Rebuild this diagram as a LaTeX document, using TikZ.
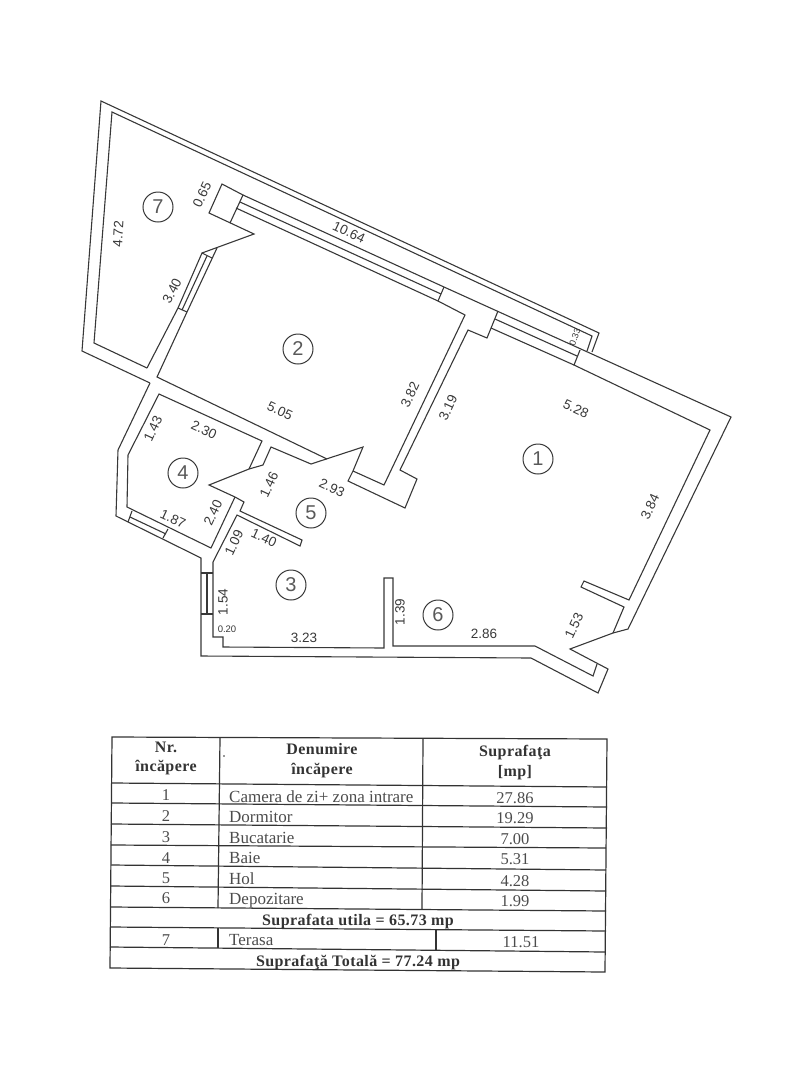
\documentclass[tikz,border=0pt]{standalone}
\usepackage{fontspec}
\setmainfont{Liberation Serif}
\newfontfamily\planfont{Liberation Sans}
\newfontfamily\headfont[LetterSpace=2.6]{Liberation Serif}
\definecolor{planline}{gray}{0.22}
\definecolor{tabline}{gray}{0.2}
\definecolor{tabtext}{gray}{0.3}
\tikzset{
	wall/.style={draw=planline, line width=1.1pt, line join=miter},
	dimlabel/.style={font=\planfont\fontsize{13.5}{13.5}\selectfont, text=planline, inner sep=0pt},
	roomno/.style={draw=planline, line width=1pt, circle, minimum size=30pt, inner sep=0pt, font=\planfont\fontsize{20}{20}\selectfont, text=black!65},
	tabrule/.style={draw=tabline, line width=1.2pt},
	tabcell/.style={font=\fontsize{16.5}{16.5}\selectfont, text=tabtext, inner sep=0pt},
	tabname/.style={font=\fontsize{17}{17}\selectfont, text=tabtext, inner sep=0pt, anchor=west},
	tabhead/.style={font=\headfont\bfseries\fontsize{16}{16}\selectfont, text=black!80, inner sep=0pt},
}
\begin{document}
\begin{tikzpicture}[x=1pt, y=-1pt]
	\useasboundingbox (0,0) rectangle (805,1080);
	
	% terasa
	\draw[wall] (150,383) -- (82,351) -- (101,101) -- (599,333) -- (592,352);
	\draw[wall] (147,368) -- (94,343) -- (112,112) -- (592,336) -- (587,351);
	\draw[wall] (147,368) -- (178,308);
	
	% perete si fereastra dormitor
	\draw[wall] (202,253) -- (254,234) -- (209,213) -- (222,184) -- (243,195) -- (230,223);
	\draw[wall] (243,195) -- (444,287);
	\draw[wall] (240,202) -- (441,294);
	\draw[wall] (236,208) -- (438,301);
	\draw[wall] (444,287) -- (438,301);
	\draw[wall] (178,308) -- (202,253) -- (212,258);
	\draw[wall] (182,310) -- (207,256);
	\draw[wall] (178,308) -- (187,312);
	\draw[wall] (217,248) -- (187,312) -- (157,377) -- (327,459);
	\draw[wall] (438,301) -- (465,315) -- (384,485) -- (353,471);
	
	% contur exterior
	\draw[wall] (150,383) -- (118,450) -- (116,516) -- (201,558) -- (201,656) -- (531,658) -- (598,693)
	-- (608,669) -- (570,649) -- (613,633) -- (628,629) -- (731,417) -- (444,287);
	
	% contur interior
	\draw[wall] (580,350) -- (574,365) -- (710,430) -- (629,600) -- (584,581) -- (581,587) -- (624,607) -- (613,633);
	\draw[wall] (498,311) -- (487,338) -- (468,330) -- (400,470) -- (417,479) -- (405,508) -- (348,481) -- (353,471)
	-- (363,447) -- (311,464) -- (271,447) -- (263,465) -- (249,469) -- (209,485) -- (235,497) -- (244,502)
	-- (240,511) -- (302,540) -- (300,546) -- (237,515) -- (213,562) -- (213,637) -- (223,637) -- (223,647)
	-- (384,648) -- (384,578) -- (393,578) -- (393,646) -- (535,646) -- (593,676) -- (597,664);
	
	% fereastra camera de zi
	\draw[wall] (491,328) -- (574,365);
	\draw[wall] (495,319) -- (577,356);
	
	% baie
	\draw[wall] (249,469) -- (262,441) -- (159,394) -- (128,455) -- (127,507) -- (211,548) -- (235,497);
	\draw[wall] (132,511) -- (128,522);
	\draw[wall] (168,529) -- (163,538);
	\draw[wall] (130,517) -- (166,534);
	
	% fereastra bucatarie
	\draw[wall] (201,573) -- (213,573);
	\draw[wall] (201,614) -- (213,614);
	\draw[wall] (207,573) -- (207,614);
	
	% numere camere
	\node[roomno] (room1) at (538,459) {1};
	\node[roomno] (room2) at (298,349) {2};
	\node[roomno] (room3) at (291,585) {3};
	\node[roomno] (room4) at (183,473) {4};
	\node[roomno] (room5) at (311,513) {5};
	\node[roomno] (room6) at (438,615) {6};
	\node[roomno] (room7) at (158,207) {7};
	
	% cote
	\node[dimlabel, rotate=87] (dimA) at (118,234) {4.72};
	\node[dimlabel, rotate=65] (dimB) at (202,195) {0.65};
	\node[dimlabel, rotate=-25] (dimC) at (349,232) {10.64};
	\node[dimlabel, rotate=63] (dimD) at (172,291) {3.40};
	\node[dimlabel, rotate=-25] (dimE) at (280,411) {5.05};
	\node[dimlabel, rotate=65] (dimF) at (410,395) {3.82};
	\node[dimlabel, rotate=65] (dimG) at (448,408) {3.19};
	\node[dimlabel, rotate=-25] (dimH) at (576,409) {5.28};
	\node[dimlabel, rotate=70, font=\planfont\fontsize{9}{9}\selectfont] (dimI) at (575,337) {0.33};
	\node[dimlabel, rotate=65] (dimJ) at (650,507) {3.84};
	\node[dimlabel, rotate=65] (dimK) at (574,626) {1.53};
	\node[dimlabel] (dimL) at (484,634) {2.86};
	\node[dimlabel, rotate=90] (dimM) at (400,612) {1.39};
	\node[dimlabel, rotate=65] (dimN) at (153,429) {1.43};
	\node[dimlabel, rotate=-25] (dimO) at (204,430) {2.30};
	\node[dimlabel, rotate=65] (dimP) at (269,485) {1.46};
	\node[dimlabel, rotate=-25] (dimQ) at (332,488) {2.93};
	\node[dimlabel, rotate=65] (dimR) at (213,513) {2.40};
	\node[dimlabel, rotate=-25] (dimS) at (173,519) {1.87};
	\node[dimlabel, rotate=-25] (dimT) at (264,538) {1.40};
	\node[dimlabel, rotate=65] (dimU) at (234,543) {1.09};
	\node[dimlabel, rotate=90] (dimV) at (223,602) {1.54};
	\node[dimlabel, font=\planfont\fontsize{9.5}{9.5}\selectfont] (dimW) at (227,629) {0.20};
	\node[dimlabel] (dimX) at (304,638) {3.23};
	
	% tabel
	\draw[tabrule] (112,737) -- (607,739) -- (605,972) -- (110,968) -- cycle;
	\draw[tabrule] (112,783) -- (607,787);
	\draw[tabrule] (112,803) -- (607,807);
	\draw[tabrule] (111,824) -- (607,828);
	\draw[tabrule] (111,845) -- (606,848);
	\draw[tabrule] (111,865) -- (606,870);
	\draw[tabrule] (111,886) -- (606,891);
	\draw[tabrule] (111,907) -- (606,911);
	\draw[tabrule] (110,927) -- (606,931);
	\draw[tabrule] (110,947) -- (605,952);
	\draw[tabrule] (220,738) -- (218,908);
	\draw[tabrule] (218,928) -- (218,948);
	\draw[tabrule] (423,739) -- (422,909);
	\draw[tabrule] (436,930) -- (436,950);
	\fill[tabline] (224,756) circle [radius=0.8];
	
	% cap de tabel
	\node[tabhead] (headNr) at (166,747.5) {Nr.};
	\node[tabhead] (headNrB) at (166,768) {încăpere};
	\node[tabhead] (headDen) at (322,749.5) {Denumire};
	\node[tabhead] (headDenB) at (322,770.5) {încăpere};
	\node[tabhead] (headSup) at (515,753) {Suprafaţa};
	\node[tabhead] (headSupB) at (515,773) {[mp]};
	
	% randuri
	\node[tabcell] (nrA) at (166,795) {1};
	\node[tabcell] (nrB) at (166,816) {2};
	\node[tabcell] (nrC) at (166,837) {3};
	\node[tabcell] (nrD) at (166,858) {4};
	\node[tabcell] (nrE) at (166,878) {5};
	\node[tabcell] (nrF) at (166,898) {6};
	\node[tabcell] (nrG) at (166,940) {7};
	\node[tabname] (nameA) at (229,796.5) {Camera de zi+ zona intrare};
	\node[tabname] (nameB) at (229,817) {Dormitor};
	\node[tabname] (nameC) at (229,837.6) {Bucatarie};
	\node[tabname] (nameD) at (229,857.6) {Baie};
	\node[tabname] (nameE) at (229,878.3) {Hol};
	\node[tabname] (nameF) at (229,900.5) {Depozitare};
	\node[tabname] (nameG) at (229,940.5) {Terasa};
	\node[tabcell] (areaA) at (515,798) {27.86};
	\node[tabcell] (areaB) at (515,818) {19.29};
	\node[tabcell] (areaC) at (515,839) {7.00};
	\node[tabcell] (areaD) at (515,859) {5.31};
	\node[tabcell] (areaE) at (515,881) {4.28};
	\node[tabcell] (areaF) at (515,901) {1.99};
	\node[tabcell] (areaG) at (521,942) {11.51};
	\node[tabhead] (sumUtil) at (358,922) {Suprafata utila = 65.73 mp};
	\node[tabhead] (sumTotal) at (358,963) {Suprafaţă Totală = 77.24 mp};
	
\end{tikzpicture}
\end{document}
